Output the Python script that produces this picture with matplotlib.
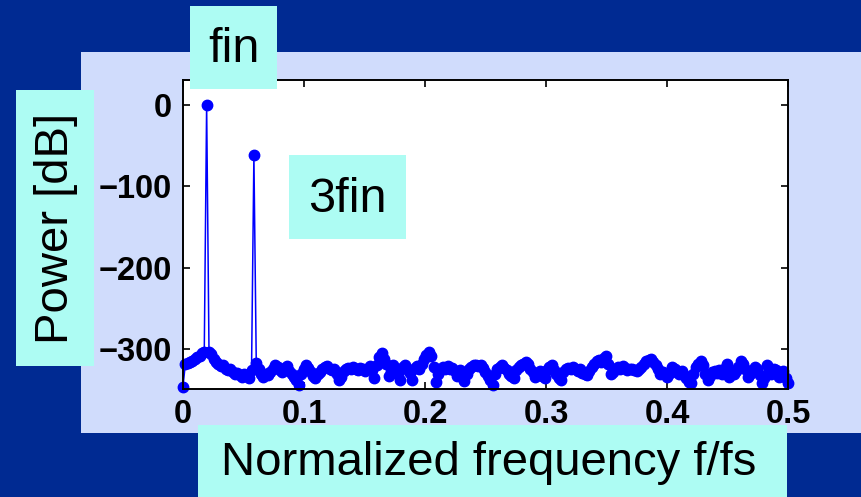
import numpy as np
import matplotlib
matplotlib.use("Agg")
import matplotlib.pyplot as plt
from matplotlib.patches import Rectangle

# ---- data ----
n_fft = 512
fin_bin = 10
power_db = (
    [-346]
    + [-318, -317, -316, -314, -312, -310, -308, -305, -303]
    + [0]
    + [-303, -306, -312, -316, -318, -321, -320, -324, -326]
    + [-325, -328, -330, -329, -332, -334, -331, -333, -335, -326]
    + [-62]
    + [-317, -325, -331, -334, -330, -332, -328, -324, -320]
    + [-322, -326, -328, -323, -321, -327, -330, -334, -338, -344]
    + [-330, -324, -320, -323, -328, -333, -335, -331, -328, -325]
    + [-322, -321, -324, -326, -325, -330, -338, -334, -327, -324]
    + [-323, -325, -322, -324, -326, -323, -325, -327, -324, -321]
    + [-326, -335, -320, -310, -305, -312, -318, -333, -327, -320]
    + [-325, -330, -338, -322, -320, -326, -329, -338, -323, -321]
    + [-325, -318, -312, -307, -304, -309, -322, -340, -330, -324]
    + [-322, -325, -321, -324, -323, -327, -333, -326, -330, -339]
    + [-331, -325, -322, -320, -320, -321, -319, -323, -328, -333]
    + [-338, -344, -330, -324, -322, -320, -323, -326, -330, -333]
    + [-336, -326, -322, -320, -318, -316, -318, -324, -328, -334]
    + [-330, -327, -333, -336, -326, -322, -320, -326, -331, -335]
    + [-338, -328, -325, -323, -324, -322, -325, -327, -324, -329]
    + [-331, -332, -327, -322, -318, -314, -313, -316, -311, -309]
    + [-318, -330, -328, -324, -322, -325, -321, -323, -326, -324]
    + [-324, -326, -327, -325, -322, -318, -315, -313, -312, -316]
    + [-320, -325, -330, -328, -331, -334, -329, -322, -325, -328]
    + [-330, -327, -332, -336, -340, -342, -330, -322, -318, -315]
    + [-320, -330, -338, -333, -328, -327, -329, -326, -330, -324]
    + [-318, -334, -328, -330, -327, -322, -315, -318, -324, -334]
    + [-330, -326, -322, -325, -332, -342, -335, -320, -324, -330]
    + [-324, -326, -334, -329, -327, -336, -342]
)
freq = np.arange(len(power_db)) / n_fft

x_ticks = [0, 0.1, 0.2, 0.3, 0.4, 0.5]
x_tick_labels = ["0", "0.1", "0.2", "0.3", "0.4", "0.5"]
y_ticks = [0, -100, -200, -300]

xlabel = "Normalized frequency f/fs"
ylabel = "Power [dB]"
label_fin = "fin"
label_3fin = "3fin"

# ---- styling ----
W, H = 862, 497
BG_DARK = "#002a92"
PANEL = "#d0dcfc"
CYAN = "#adfcf3"
BLUE = "#0000ff"

plt.rcParams["font.family"] = ["Liberation Sans", "DejaVu Sans"]

fig = plt.figure(figsize=(W / 100, H / 100), dpi=100)
fig.patch.set_facecolor(BG_DARK)


def fx(px):
    return px / W


def fy(py):
    return 1 - py / H


def fig_rect(x0, y0, x1, y1, color, z):
    r = Rectangle((fx(x0), fy(y1)), fx(x1) - fx(x0), fy(y0) - fy(y1),
                  transform=fig.transFigure, facecolor=color,
                  edgecolor="none", zorder=z)
    fig.add_artist(r)


# lavender panel behind axes
fig_rect(81, 52, W, 433, PANEL, -10)

ax = fig.add_axes([fx(183), fy(389), fx(788) - fx(183), fy(80) - fy(389)])
ax.set_facecolor("white")
ax.plot(freq, power_db, color=BLUE, lw=1.1, marker="o", ms=7.5,
        markerfacecolor=BLUE, markeredgecolor=BLUE, clip_on=False)
ax.set_xlim(0, 0.5)
ax.set_ylim(-349, 30.5)
ax.set_xticks(x_ticks)
ax.set_xticklabels(x_tick_labels)
ax.set_yticks(y_ticks)
ax.tick_params(direction="in", length=5, width=1.2, top=True, right=True,
               labelsize=23.5)
ax.tick_params(axis="y", pad=8)
ax.tick_params(axis="x", pad=7)
for lab in ax.get_xticklabels() + ax.get_yticklabels():
    lab.set_fontweight("bold")
for sp in ax.spines.values():
    sp.set_linewidth(1.4)

# cyan label boxes (drawn above the axes)
fig_rect(190, 6, 277, 89, CYAN, 5)
fig_rect(289, 155, 406, 239, CYAN, 5)
fig_rect(16, 90, 94, 366, CYAN, 5)
fig_rect(198, 425, 787, H, CYAN, 5)

fig.text(fx(233.5), fy(50), label_fin, fontsize=35, ha="center",
         va="center", zorder=6)
fig.text(fx(347.5), fy(199), label_3fin, fontsize=35, ha="center",
         va="center", zorder=6)
fig.text(fx(56), fy(228), ylabel, fontsize=34, ha="center", va="center",
         rotation=90, zorder=6)
fig.text(fx(489), fy(463), xlabel, fontsize=34, ha="center", va="center",
         zorder=6)

fig.savefig("out.png", dpi=100, facecolor=fig.get_facecolor())
